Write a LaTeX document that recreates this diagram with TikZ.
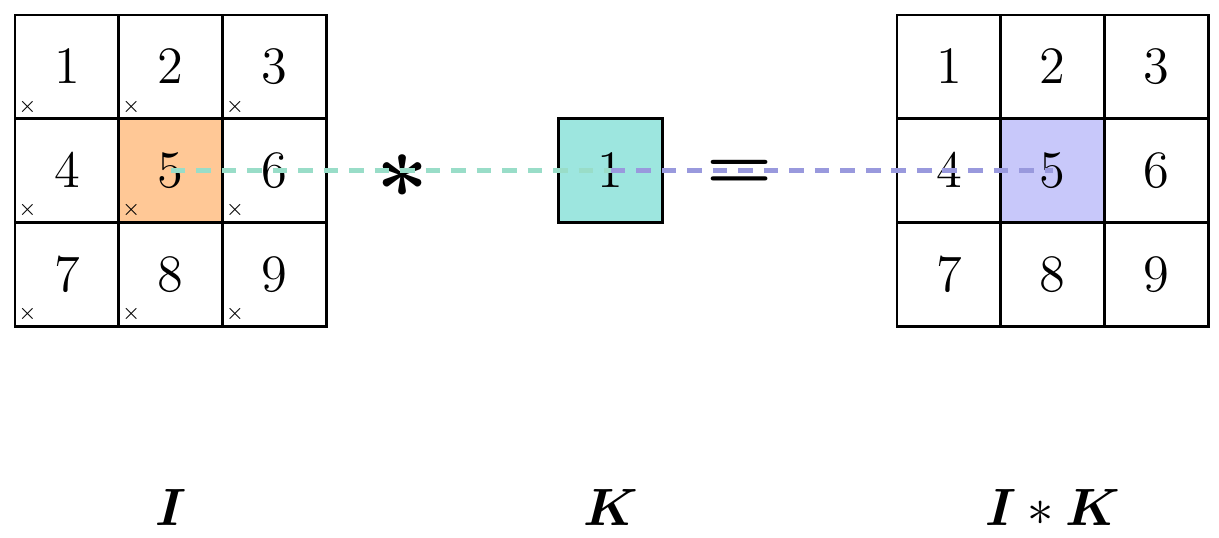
\documentclass[tikz,border=0pt]{standalone}
\usepackage{amsmath, amssymb, bm}
\usetikzlibrary{positioning, calc}
\definecolor{peach}{HTML}{FFC896}
\definecolor{mint}{HTML}{9DE6DF}
\definecolor{lilac}{HTML}{C8C8FA}
\definecolor{mintline}{HTML}{99DDC8}
\definecolor{lilacline}{HTML}{9999DD}
\tikzset{
  cell/.style={draw, line width=0.8pt, minimum size=1cm, inner sep=0pt, font=\Large},
  lcell5/.style={fill=peach},
  rcell5/.style={fill=lilac},
  xmark/.style={font=\tiny, inner sep=0pt},
  link/.style={line width=1.4pt, dash pattern=on 4pt off 3pt},
  label/.style={anchor=base, font=\Large},
}

\begin{document}
\begin{tikzpicture}
  \useasboundingbox (0,0) rectangle (11.755,5.188);
  % input and output grids
  \foreach \r in {0,1,2}
    \foreach \c in {1,2,3} {
      \pgfmathtruncatemacro{\n}{3*\r+\c}
      \node[cell, lcell\n/.try] (l\n) at ({0.145+\c-0.5}, {4.543-\r}) {$\n$};
      \node[cell, rcell\n/.try] (r\n) at ({8.65+\c-0.5}, {4.543-\r}) {$\n$};
      \node[xmark] (x\n) at ($(l\n.south west)+(0.135,0.13)$) {$\times$};
    }
  % kernel
  \node[cell, fill=mint] (k) at (5.89, 3.543) {$1$};
  % operators
  \node[font=\Huge] (conv) at (3.885, 3.49) {$\bm{\ast}$};
  \node[font=\huge] (eq) at (7.136, 3.50) {$\bm{=}$};
  % dashed links
  \draw[link, mintline] (l5.center) -- (k.center);
  \draw[link, lilacline] (k.center) -- (r5.center);
  % captions
  \node[label] (capI) at (1.645, 0.125) {$\bm{I}$};
  \node[label] (capK) at (5.89, 0.125) {$\bm{K}$};
  \node[label] (capIK) at (10.15, 0.125) {$\bm{I} * \bm{K}$};
\end{tikzpicture}
\end{document}
